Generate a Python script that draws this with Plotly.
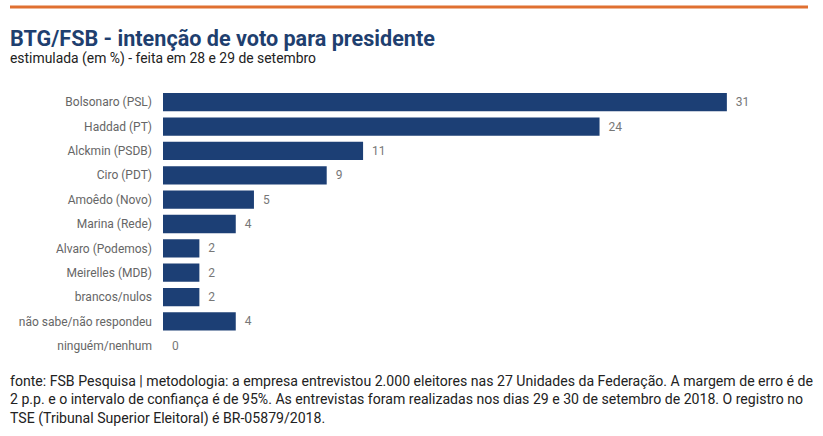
import plotly.graph_objects as go

# candidates / answers and vote share (%)
categorias = ["Bolsonaro (PSL)", "Haddad (PT)", "Alckmin (PSDB)", "Ciro (PDT)",
              "Amoêdo (Novo)", "Marina (Rede)", "Alvaro (Podemos)", "Meirelles (MDB)",
              "brancos/nulos", "não sabe/não respondeu", "ninguém/nenhum"]
valores = [31, 24, 11, 9, 5, 4, 2, 2, 2, 4, 0]

titulo = "BTG/FSB - intenção de voto para presidente"
subtitulo = "estimulada (em %) - feita em 28 e 29 de setembro"
rodape = ("fonte: FSB Pesquisa | metodologia: a empresa entrevistou 2.000 eleitores nas 27 Unidades da Federação. A margem de erro é de<br>"
          "2 p.p. e o intervalo de confiança é de 95%. As entrevistas foram realizadas nos dias 29 e 30 de setembro de 2018. O registro no<br>"
          "TSE (Tribunal Superior Eleitoral) é BR-05879/2018.")

fig = go.Figure(go.Bar(
    x=valores, y=categorias, orientation="h",
    marker=dict(color="#1c3f75", line=dict(width=0)),
    texttemplate="\u00a0\u00a0%{x}", textposition="outside", cliponaxis=False,
    textfont=dict(color="#777777", size=12, family="Roboto"),
    hoverinfo="skip",
))

line_x0 = -153 / 645  # page x=10
text_x = -155 / 645   # annotations add ~2px padding

fig.update_layout(
    width=823, height=436,
    margin=dict(l=163, r=15, t=90, b=78, autoexpand=False),
    paper_bgcolor="white", plot_bgcolor="white",
    bargap=0.25,
    showlegend=False,
    font=dict(family="Roboto", color="#333333"),
    xaxis=dict(range=[0, 35.46], visible=False, fixedrange=True, automargin=False),
    yaxis=dict(autorange="reversed", showgrid=False, zeroline=False, showline=False,
               ticks="", ticklabelstandoff=10, automargin=False, fixedrange=True,
               tickfont=dict(size=12, color="#666666", family="Roboto")),
    shapes=[dict(type="line", xref="paper", yref="paper",
                 x0=line_x0, x1=1.0, y0=1.3097, y1=1.3097,
                 line=dict(color="#e07031", width=3))],
    annotations=[
        dict(text="<b>" + titulo + "</b>", xref="paper", yref="paper",
             x=text_x, y=1.194, xanchor="left", yanchor="middle", showarrow=False,
             font=dict(size=21.6, color="#1f3f6f", family="Roboto")),
        dict(text=subtitulo, xref="paper", yref="paper",
             x=text_x, y=1.119, xanchor="left", yanchor="middle", showarrow=False,
             font=dict(size=13.9, color="#222222", family="Roboto")),
        dict(text=rodape, xref="paper", yref="paper",
             x=text_x, y=-0.0485, xanchor="left", yanchor="top", showarrow=False,
             align="left", font=dict(size=14.1, color="#222222", family="Roboto")),
    ],
)

# drop the default body margin so the figure sits at the page origin
fig.write_html("out.html", config={"displayModeBar": False},
               post_script="document.body.style.margin='0';")
